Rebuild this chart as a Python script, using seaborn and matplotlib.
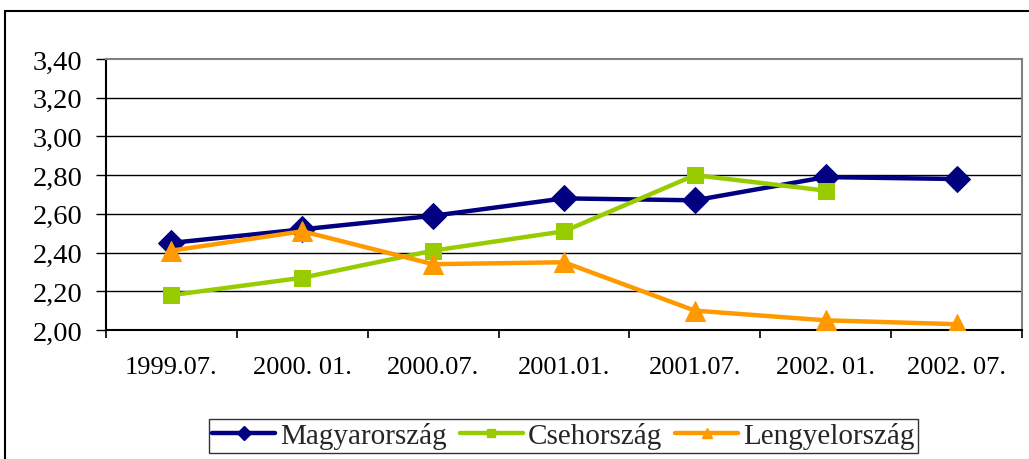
import numpy as np
import pandas as pd
import matplotlib
matplotlib.use("Agg")
import matplotlib.pyplot as plt
from matplotlib.lines import Line2D
from matplotlib.ticker import FixedLocator, FuncFormatter
import seaborn as sns

categories = ["1999.07.", "2000. 01.", "2000.07.", "2001.01.", "2001.07.", "2002. 01.", "2002. 07."]
magyar = [2.45, 2.52, 2.59, 2.68, 2.67, 2.79, 2.78]
cseh = [2.18, 2.27, 2.41, 2.51, 2.80, 2.72, np.nan]
lengyel = [2.41, 2.51, 2.34, 2.35, 2.10, 2.05, 2.03]
series_names = ["Magyarország", "Csehország", "Lengyelország"]
y_ticks = [2.00, 2.20, 2.40, 2.60, 2.80, 3.00, 3.20, 3.40]

sns.set_theme(style="white")
plt.rcParams["font.family"] = ["Liberation Serif", "DejaVu Serif"]

fig = plt.figure(figsize=(10.29, 4.60), dpi=100)
ax = fig.add_axes([106/1029, 1-331/460, (1022-106)/1029, (331-60)/460])

x = np.arange(len(categories))
styles = [
    (magyar, "#000080", "D", 13.5),
    (cseh, "#99CC00", "s", 11.5),
    (lengyel, "#FF9900", "^", 14),
]
for (vals, col, mk, ms), name in zip(styles, series_names):
    df = pd.DataFrame({"x": x, "y": vals}).dropna()
    sns.lineplot(data=df, x="x", y="y", ax=ax, color=col, linewidth=3.2,
                 marker=mk, markersize=ms, markeredgecolor=col,
                 markerfacecolor=col, label=name, legend=False, zorder=3)

ax.set_xlim(-0.5, len(categories) - 0.5)
ax.set_ylim(2.0, 3.4)
ax.set_xlabel("")
ax.set_ylabel("")

ax.set_yticks(y_ticks)
ax.yaxis.set_major_formatter(FuncFormatter(lambda v, p: f"{v:.2f}".replace(".", ",")))
ax.grid(False)
for yv in y_ticks[1:-1]:
    ax.axhline(yv, color="black", linewidth=1.0, zorder=1)

ax.xaxis.set_major_locator(FixedLocator(np.arange(-0.5, len(categories), 1.0)))
ax.xaxis.set_major_formatter(FuncFormatter(lambda v, p: ""))
ax.xaxis.set_minor_locator(FixedLocator(x))
ax.set_xticklabels(categories, minor=True)
ax.tick_params(axis="x", which="major", direction="out", length=5.5, width=1.2, color="black", bottom=True)
ax.tick_params(axis="x", which="minor", length=0, pad=19, labelsize=19, labelcolor="black")
ax.tick_params(axis="y", which="major", direction="out", length=7, width=1.0, color="black",
               left=True, pad=10, labelsize=20.5, labelcolor="black")

for side in ["left", "bottom"]:
    ax.spines[side].set_color("black")
    ax.spines[side].set_linewidth(1.5)
for side in ["top", "right"]:
    ax.spines[side].set_visible(True)
    ax.spines[side].set_color("#808080")
    ax.spines[side].set_linewidth(1.5)

handles = [Line2D([], [], color=c, linewidth=3.2, marker=m, markersize=s * 0.55,
                  markerfacecolor=c, markeredgecolor=c) for _, c, m, s in styles]
leg = fig.legend(handles, series_names, loc="center", bbox_to_anchor=(563.5/1029, 1-436.5/460),
                 ncol=3, frameon=True, fancybox=False, fontsize=21, handlelength=2.15,
                 handletextpad=0.18, columnspacing=0.45, borderpad=0.12, borderaxespad=0)
leg.get_frame().set_edgecolor("black")
leg.get_frame().set_linewidth(1.0)

fig.add_artist(Line2D([5/1029, 1], [1-12/460, 1-12/460], color="black", linewidth=1.5,
                      transform=fig.transFigure))
fig.add_artist(Line2D([5/1029, 5/1029], [0, 1-12/460], color="black", linewidth=1.5,
                      transform=fig.transFigure))

fig.savefig("out.png", dpi=100, facecolor="white")
